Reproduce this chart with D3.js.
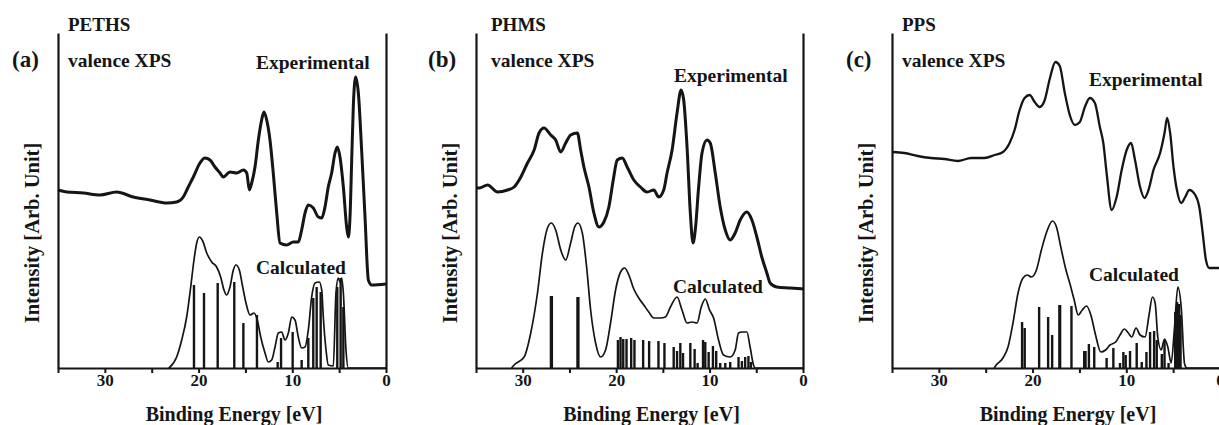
<!DOCTYPE html>
<html><head><meta charset="utf-8">
<script src="https://cdn.jsdelivr.net/npm/d3@7"></script>
<style>
body{margin:0;background:#fff}
svg{display:block}
text{font-family:"Liberation Serif","Times New Roman",serif;font-weight:bold;fill:#151515}
</style>
</head><body>
<svg id="chart" width="1219" height="425"></svg>
<script>
// ---- data (binding energy [eV], intensity [arb. unit]) ----
const tickLabels = [30, 20, 10, 0];
const tickValues = [35, 30, 25, 20, 15, 10, 5, 0];

const pethsExp = [[35,178],[34.07,176],[32.3,175],[30.52,173],[28.74,176],[26.97,171],[25.18,168],[23.4,165],[22.34,166],[21.63,171],[21.1,181],[20.56,191],[19.85,205],[19.32,210],[18.78,208],[18.25,201],[17.71,195],[17.36,191],[16.65,196],[15.93,195],[15.22,198],[14.86,195],[14.58,178],[14.33,185],[13.98,201],[13.62,228],[13.27,248],[13.02,256],[12.73,248],[12.38,228],[12.03,195],[11.66,155],[11.31,125],[10.6,123],[9.89,126],[9.36,126],[9.0,138],[8.64,155],[8.29,163],[7.76,160],[7.22,151],[6.86,150],[6.51,161],[6.16,181],[5.8,195],[5.44,215],[5.2,221],[4.91,211],[4.55,181],[4.2,141],[4.02,131],[3.84,151],[3.66,208],[3.49,261],[3.24,291],[2.95,275],[2.6,218],[2.24,151],[1.88,88],[1.53,83],[0,84]];
const pethsCalc = [[23.2,0],[23.05,1],[22.34,11],[21.8,28],[21.27,51],[20.84,81],[20.49,108],[20.2,125],[19.92,131],[19.56,127],[19.13,115],[18.6,106],[18.07,101],[17.64,91],[17.29,78],[17.0,73],[16.65,81],[16.29,98],[16.0,103],[15.65,98],[15.29,81],[14.94,65],[14.51,53],[14.09,55],[13.73,48],[13.37,31],[12.91,15],[12.56,6],[12.2,8],[11.84,21],[11.49,35],[11.13,36],[10.78,28],[10.42,35],[10.06,51],[9.71,48],[9.36,31],[9.0,20],[8.64,21],[8.29,38],[7.93,71],[7.58,85],[7.12,86],[6.86,78],[6.69,51],[6.4,18],[6.16,3],[5.62,2],[5.34,75],[5.09,90],[4.91,86],[4.73,90],[4.55,75],[4.27,18],[4.02,0],[0,0]];
const pethsSticks = [[20.49,83],[19.42,75],[17.96,85],[16.19,86],[15.22,45],[13.77,53],[11.56,6],[11.2,30],[9.96,36],[9.0,8],[8.29,30],[7.76,70],[7.4,81],[6.97,76],[5.2,81],[4.84,90],[4.55,61]];

const phmsExp = [[34.9,180],[34.65,180],[33.76,183],[32.69,176],[31.62,178],[30.92,181],[30.2,191],[29.49,205],[28.78,218],[28.25,235],[27.72,240],[27.0,233],[26.47,228],[25.93,216],[25.4,225],[24.87,233],[24.15,235],[23.8,218],[23.45,201],[22.91,181],[22.38,155],[21.85,141],[21.31,146],[20.78,161],[20.31,188],[19.88,208],[19.35,210],[18.82,201],[18.11,188],[17.4,181],[16.68,176],[15.97,178],[15.44,171],[14.91,178],[14.55,195],[14.01,218],[13.48,255],[13.05,278],[12.77,268],[12.41,221],[12.06,155],[11.77,125],[11.53,138],[11.17,181],[10.81,215],[10.28,228],[9.93,225],[9.39,195],[8.86,161],[8.32,138],[7.79,128],[7.26,135],[6.72,148],[6.01,156],[5.47,148],[4.94,131],[4.41,111],[3.87,95],[3.52,85],[2.81,81],[1.39,80],[0,79]];
const phmsCalc = [[31.2,0],[30.92,3],[29.85,11],[29.14,35],[28.42,75],[27.89,115],[27.35,140],[26.93,145],[26.47,138],[25.93,118],[25.4,108],[24.87,125],[24.44,141],[24.09,145],[23.62,135],[23.16,101],[22.73,58],[22.2,25],[21.66,11],[21.13,18],[20.6,45],[20.06,78],[19.53,96],[19.1,100],[18.64,93],[18.11,79],[17.58,70],[17.04,63],[16.51,56],[15.98,50],[15.26,50],[14.73,51],[14.19,61],[13.48,71],[12.95,58],[12.41,45],[11.88,46],[11.34,45],[10.89,61],[10.46,69],[10.0,58],[9.57,50],[9.04,28],[8.51,13],[7.79,11],[7.26,18],[6.9,35],[6.54,36],[6.01,36],[5.66,21],[5.3,3],[5.1,0],[0,0]];
const phmsSticks = [[26.98,72],[26.88,72],[24.14,71],[24.04,71],[19.81,28],[19.53,31],[19.24,29],[18.89,29],[18.39,30],[18.04,28],[17.11,28],[16.47,27],[15.47,27],[14.83,25],[13.84,21],[13.48,17],[13.13,25],[12.84,15],[12.06,25],[11.6,19],[11.28,5],[10.7,28],[10.46,26],[10.1,16],[9.64,22],[9.29,17],[8.86,5],[8.32,5],[7.79,6],[6.9,11],[6.54,7],[6.19,11],[5.84,12],[5.58,6]];

const ppsExp = [[34.94,216],[33.69,215],[32.26,212],[30.84,210],[29.41,209],[27.98,207],[26.55,210],[25.13,210],[24.06,213],[23.16,216],[22.45,225],[21.92,238],[21.38,258],[20.85,270],[20.31,273],[19.78,266],[19.24,261],[18.7,268],[18.17,289],[17.56,306],[17.1,302],[16.56,275],[16.03,253],[15.49,243],[14.96,246],[14.42,261],[13.89,270],[13.35,265],[12.82,241],[12.45,225],[12.1,195],[11.56,158],[11.03,171],[10.49,198],[9.96,218],[9.49,225],[9.07,208],[8.53,181],[8.06,170],[7.63,178],[7.1,198],[6.39,215],[5.92,235],[5.64,250],[5.32,235],[4.96,201],[4.6,178],[4.14,165],[3.71,171],[3.28,178],[2.64,173],[2.21,161],[1.85,135],[1.5,108],[1.15,100],[0,100]];
const ppsCalc = [[24.1,0],[23.88,3],[23.16,10],[22.62,21],[22.09,45],[21.55,75],[21.02,90],[20.56,93],[20.13,91],[19.59,98],[19.06,118],[18.42,138],[17.88,147],[17.45,141],[16.99,121],[16.49,100],[15.92,81],[15.56,68],[15.13,53],[14.7,58],[14.24,62],[13.78,53],[13.28,33],[12.71,16],[12.21,18],[11.74,23],[11.13,26],[10.67,33],[10.2,39],[9.78,35],[9.42,31],[8.96,40],[8.53,33],[8.0,31],[7.57,53],[7.21,71],[6.92,65],[6.64,31],[6.28,18],[5.92,29],[5.57,21],[5.21,5],[4.85,41],[4.5,81],[4.14,61],[3.78,4],[3.53,0],[0,0]];
const ppsSticks = [[21.12,46],[20.84,40],[19.3,61],[18.34,51],[17.91,33],[17.14,63],[17.06,63],[15.85,62],[14.49,17],[14.35,17],[13.99,24],[13.42,21],[12.1,10],[11.38,20],[10.67,5],[10.31,16],[10.06,13],[9.6,17],[8.89,25],[8.35,6],[7.85,16],[7.46,36],[7.03,37],[6.75,28],[6.21,14],[5.92,28],[5.49,5],[4.78,56],[4.57,66],[4.36,64],[4.21,53]];

const panelTags = ["(a)", "(b)", "(c)"];
const panelNames = ["PETHS", "PHMS", "PPS"];

// ---- layout ----
const panels = [
  {exp: pethsExp, calc: pethsCalc, sticks: pethsSticks, x0: 58, x1: 386,
   tagX: 12, nameX: 68, yLabX: 39, expX: 256, expY: 69, calX: 256, calY: 274, expW: 3.0},
  {exp: phmsExp, calc: phmsCalc, sticks: phmsSticks, x0: 476, x1: 803,
   tagX: 428, nameX: 491, yLabX: 457, expX: 674, expY: 82, calX: 673, calY: 293, expW: 3.0},
  {exp: ppsExp, calc: ppsCalc, sticks: ppsSticks, x0: 892, x1: 1220,
   tagX: 846, nameX: 902, yLabX: 873, expX: 1089, expY: 86, calX: 1089, calY: 281, expW: 2.3}
];
const yTop = 33, yBot = 368;

const svg = d3.select("#chart");
const ink = "#151515";

panels.forEach((p, i) => {
  const x = d3.scaleLinear().domain([35, 0]).range([p.x0, p.x1]);
  const y = d3.scaleLinear().domain([0, 335]).range([yBot, yTop]);
  const g = svg.append("g");

  // sticks
  g.append("g").selectAll("line").data(p.sticks).join("line")
    .attr("x1", d => x(d[0])).attr("x2", d => x(d[0]))
    .attr("y1", y(0)).attr("y2", d => y(d[1]))
    .attr("stroke", ink).attr("stroke-width", 2.4);

  const line = d3.line().x(d => x(d[0])).y(d => y(d[1])).curve(d3.curveMonotoneX);
  g.append("path").datum(p.calc).attr("d", line)
    .attr("fill", "none").attr("stroke", ink).attr("stroke-width", 1.7).attr("stroke-linejoin", "round");
  g.append("path").datum(p.exp).attr("d", line)
    .attr("fill", "none").attr("stroke", ink).attr("stroke-width", p.expW).attr("stroke-linejoin", "round");

  // axes
  const xAxis = d3.axisBottom(x).tickValues(tickValues)
    .tickFormat(d => tickLabels.includes(d) ? d : "")
    .tickSize(5).tickSizeOuter(0).tickPadding(1);
  const ax = g.append("g").attr("transform", `translate(0,${yBot})`).call(xAxis);
  ax.select(".domain").attr("stroke", ink).attr("stroke-width", 2.2);
  ax.selectAll(".tick line").attr("stroke", ink).attr("stroke-width", 2);
  ax.selectAll(".tick text").style("font-size", "17px").attr("fill", ink)
    .style("font-family", '"Liberation Serif",serif').style("font-weight", "bold");

  const yl = d3.axisLeft(y).tickValues([]).tickSizeOuter(0);
  const ayl = g.append("g").attr("transform", `translate(${p.x0},0)`).call(yl);
  ayl.select(".domain").attr("stroke", ink).attr("stroke-width", 2.2);
  const ayr = g.append("g").attr("transform", `translate(${p.x1},0)`).call(yl);
  ayr.select(".domain").attr("stroke", ink).attr("stroke-width", 2.2);

  // texts
  g.append("text").attr("x", p.tagX).attr("y", 67).style("font-size", "23px").text(panelTags[i]);
  g.append("text").attr("x", p.nameX).attr("y", 31).style("font-size", "19px").text(panelNames[i]);
  g.append("text").attr("x", p.nameX).attr("y", 67).style("font-size", "19.5px").text("valence XPS");
  g.append("text").attr("x", p.expX).attr("y", p.expY).style("font-size", "19.5px").text("Experimental");
  g.append("text").attr("x", p.calX).attr("y", p.calY).style("font-size", "19.5px").text("Calculated");
  g.append("text").attr("transform", `translate(${p.yLabX},233) rotate(-90)`)
    .attr("text-anchor", "middle").style("font-size", "20.5px").text("Intensity [Arb. Unit]");
  g.append("text").attr("x", (p.x0 + p.x1) / 2 + 12).attr("y", 421)
    .attr("text-anchor", "middle").style("font-size", "20px").text("Binding Energy [eV]");
});
</script>
</body></html>
